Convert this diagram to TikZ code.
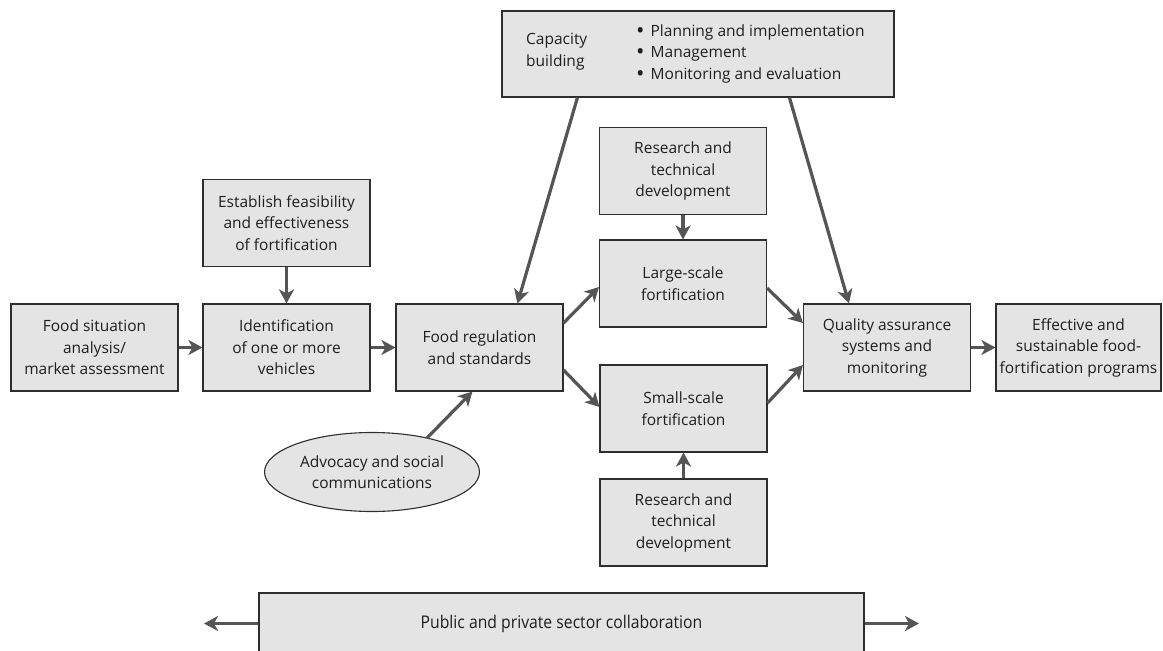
\documentclass[tikz,border=0pt]{standalone}
\usepackage{fontspec}
\usepackage{graphicx}
\setmainfont{Open Sans}
\usetikzlibrary{arrows.meta,calc,shapes.geometric}
\definecolor{boxfill}{HTML}{E4E4E4}
\definecolor{boxline}{HTML}{2E2E2E}
\definecolor{arrowc}{HTML}{555555}
\definecolor{inkc}{HTML}{1E1E1E}
\newcommand{\bigbul}{\raisebox{-2.4pt}{\scalebox{1.45}{\textbullet}}\hspace{6pt}}

\begin{document}
\begin{tikzpicture}[x=1pt,y=-1pt,
  every node/.style={text=inkc},
  box/.style={draw=boxline,line width=1.1pt,fill=boxfill,minimum width=167pt,
    minimum height=87pt,inner sep=0pt,align=center,
    font=\fontsize{15.5}{21.5}\selectfont},
  txt/.style={inner sep=0pt,font=\fontsize{15.5}{21.5}\selectfont},
  flow/.style={draw=arrowc,line width=3.2pt,
    -{Stealth[length=14pt,width=15pt,inset=4pt]}},
]
\useasboundingbox (0,0) rectangle (1163,651);

% main chain
\node[box] (food)  at (94.5,347.5)  {Food situation\\analysis/\\market assessment};
\node[box] (ident) at (286.5,347.5) {Identification\\of one or more\\vehicles};
\node[box] (estab) at (286.5,223)   {Establish feasibility\\and effectiveness\\of fortification};
\node[box] (reg)   at (479.5,347.5) {Food regulation\\and standards};
\node[box] (rtop)  at (683,171)     {Research and\\technical\\development};
\node[box] (large) at (683,283.5)   {Large-scale\\fortification};
\node[box] (small) at (683.5,408.5) {Small-scale\\fortification};
\node[box] (rbot)  at (683.5,522.5) {Research and\\technical\\development};
\node[box] (qual)  at (887,347.5)   {Quality assurance\\systems and\\monitoring};
\node[box,minimum width=165pt] (eff) at (1078.5,347.5)
  {Effective and\\sustainable food-\\fortification programs};

% capacity building panel
\node[box,minimum width=392pt,minimum height=86pt] (cap) at (698,54) {};
\node[txt,anchor=west,align=left] (captitle) at (526,51.5) {Capacity\\building};
\node[txt,anchor=west,align=left] (caplist) at (636,53.5)
  {\bigbul Planning and implementation\\
   \bigbul Management\\
   \bigbul Monitoring and evaluation};

% advocacy ellipse
\node[ellipse,draw=boxline,line width=1.1pt,fill=boxfill,minimum width=215pt,
  minimum height=79pt,inner sep=0pt,align=center,
  font=\fontsize{15.5}{21.5}\selectfont] (adv) at (372,472)
  {Advocacy and social\\communications};

% collaboration bar
\node[box,minimum width=605pt,minimum height=61pt] (bar) at (561.5,623.5)
  {\fontsize{17.5}{21}\selectfont\scalebox{0.9}[1]{Public and private sector collaboration}};
\coordinate (barL) at (204,623.5);
\coordinate (barR) at (919,623.5);

% connectors
\draw[flow] (food) -- (ident);
\draw[flow] (ident) -- (reg);
\draw[flow] (estab) -- (ident);
\draw[flow] (qual) -- (eff);
\draw[flow] (rtop) -- (large);
\draw[flow] (rbot) -- (small);
\draw[flow] ($(cap.south west)+(76,0)$) -- ($(reg.north west)+(122,0)$);
\draw[flow] ($(cap.south west)+(288,0)$) -- ($(qual.north west)+(46,0)$);
\draw[flow] ($(reg.east)+(0,-24.5)$) -- ($(large.west)+(0,3.5)$);
\draw[flow] ($(reg.east)+(0,22.5)$) -- ($(small.west)+(0,-1.5)$);
\draw[flow] ($(large.east)+(0,4.5)$) -- ($(qual.west)+(0,-24.5)$);
\draw[flow] ($(small.east)+(0,-5.5)$) -- ($(qual.west)+(0,17.5)$);
\draw[flow] ($(adv.center)+(55,-34)$) -- ($(reg.south west)+(77,0)$);
\draw[flow] (bar.west) -- (barL);
\draw[flow] (bar.east) -- (barR);
\end{tikzpicture}
\end{document}
